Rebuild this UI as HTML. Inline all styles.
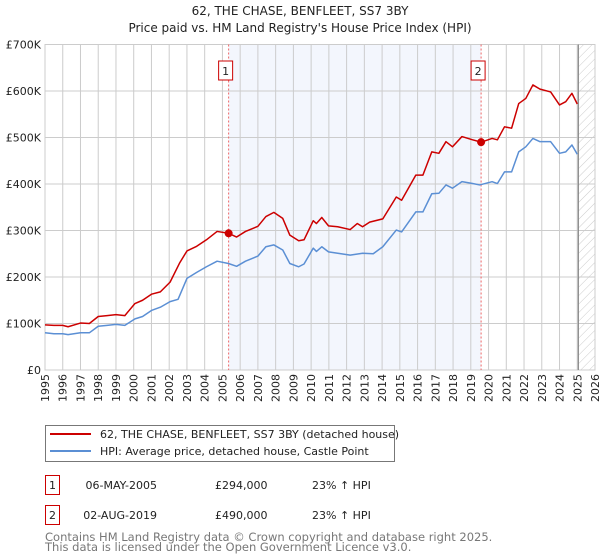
<!DOCTYPE html>
<html><head><meta charset="utf-8">
<style>
body{margin:0;background:#fff;width:600px;height:560px;overflow:hidden;font-family:"DejaVu Sans","Liberation Sans",sans-serif;}
svg{position:absolute;left:0;top:0}
</style></head>
<body>
<svg id="chart" width="600" height="560" font-family="DejaVu Sans, Liberation Sans, sans-serif"></svg>
<script>
const yearTicks=[1995,1996,1997,1998,1999,2000,2001,2002,2003,2004,2005,2006,2007,2008,2009,2010,2011,2012,2013,2014,2015,2016,2017,2018,2019,2020,2021,2022,2023,2024,2025,2026];
const valueTicks=[0,100,200,300,400,500,600,700];
const valueTickLabels=["£0","£100K","£200K","£300K","£400K","£500K","£600K","£700K"];
const hpiYears=[1995,1995.5,1996,1996.3,1997,1997.5,1998,1998.5,1999,1999.5,2000.07,2000.5,2001,2001.5,2002.05,2002.5,2003,2003.55,2004.1,2004.7,2005.34,2005.8,2006.3,2007,2007.45,2007.9,2008.4,2008.8,2009.3,2009.6,2010.12,2010.3,2010.6,2010.98,2011.5,2012.2,2012.9,2013.5,2014.04,2014.8,2015.1,2015.9,2016.3,2016.8,2017.2,2017.6,2017.97,2018.5,2019.1,2019.5,2020.2,2020.5,2020.9,2021.3,2021.7,2022.1,2022.5,2022.9,2023.5,2024.0,2024.35,2024.7,2025.0];
const hpiValues=[80,78,78,76,80,80,94,96,98,96,110,115,128,135,147,152,197,210,222,234,229,223,234,245,265,269,258,229,222,228,262,255,265,254,251,247,251,250,265,301,297,340,340,379,380,398,391,405,401,398,405,401,426,426,469,480,498,491,491,466,469,484,464];
const priceYears=[1995,1995.5,1996,1996.3,1997,1997.5,1998,1998.5,1999,1999.5,2000.07,2000.5,2001,2001.5,2002.05,2002.6,2003,2003.55,2004.1,2004.7,2005.35,2005.8,2006.3,2007,2007.45,2007.9,2008.4,2008.8,2009.3,2009.6,2010.12,2010.3,2010.6,2010.98,2011.5,2012.2,2012.6,2012.9,2013.3,2014.04,2014.8,2015.1,2015.9,2016.3,2016.8,2017.2,2017.6,2017.97,2018.5,2019.1,2019.58,2020.2,2020.5,2020.9,2021.3,2021.7,2022.1,2022.5,2022.9,2023.5,2024.0,2024.35,2024.7,2025.0];
const priceValues=[97,96,96,93,101,100,115,117,119,117,143,150,163,168,189,231,256,266,280,298,294,286,298,309,330,339,326,290,278,280,321,315,328,310,308,302,315,308,318,325,372,365,419,419,469,466,491,480,502,495,490,498,495,523,520,573,584,613,604,598,570,577,595,572];
const saleYears=[2005.35,2019.58];
const saleValues=[294,490];
const saleLabels=["1","2"];

const L=45,R=595,T=44.5,B=370;
const x=y=>L+(y-1995)/(2026-1995)*(R-L);
const yv=v=>B-v/700*(B-T);
const NS="http://www.w3.org/2000/svg";
const svg=document.getElementById('chart');
function mk(tag,attrs,parent){const e=document.createElementNS(NS,tag);for(const k in attrs)e.setAttribute(k,attrs[k]);(parent||svg).appendChild(e);return e;}

let t=mk('text',{x:300,y:15,'text-anchor':'middle','font-size':12,fill:'#222'});t.textContent="62, THE CHASE, BENFLEET, SS7 3BY";


t=mk('text',{x:300,y:32,'text-anchor':'middle','font-size':12,fill:'#222'});t.textContent="Price paid vs. HM Land Registry's House Price Index (HPI)";



let sh=mk('rect',{x:x(saleYears[0]),y:T,width:x(saleYears[1])-x(saleYears[0]),height:B-T,fill:'#eef2fc',opacity:0.7});


const defs=mk('defs',{});
const pat=mk('pattern',{id:'hatch',width:6,height:6,patternUnits:'userSpaceOnUse',patternTransform:'rotate(45)'},defs);
mk('line',{x1:0,y1:0,x2:0,y2:6,stroke:'#ccc','stroke-width':1},pat);
let ht=mk('rect',{x:x(2025.06),y:T,width:R-x(2025.06),height:B-T,fill:'url(#hatch)'});



yearTicks.forEach(yr=>{const l=mk('line',{x1:x(yr),x2:x(yr),y1:T,y2:B,stroke:'#ccc','stroke-width':1});


const tx=mk('text',{transform:`translate(${x(yr)+4},${B+4}) rotate(-90)`,'text-anchor':'end','font-size':11,fill:'#222'});tx.textContent=yr;

});
valueTicks.forEach((v,i)=>{const l=mk('line',{x1:L,x2:R,y1:yv(v),y2:yv(v),stroke:'#ccc','stroke-width':1});


const tx=mk('text',{x:L-4,y:yv(v)+4,'text-anchor':'end','font-size':11,fill:'#222'});tx.textContent=valueTickLabels[i];

});
let ax=mk('rect',{x:L,y:T,width:R-L,height:B-T,fill:'none',stroke:'#ccc'});


let nl=mk('line',{x1:x(2025.06),x2:x(2025.06),y1:T,y2:B,stroke:'#888','stroke-width':1.2});



saleYears.forEach((yr,i)=>{const l=mk('line',{x1:x(yr),x2:x(yr),y1:T,y2:B,stroke:'#e66','stroke-width':1,'stroke-dasharray':'2,2'});


const g=mk('g',{});


mk('rect',{x:x(yr)-10,y:61,width:14,height:19,fill:'#fff',stroke:'#c00'},g);
const tx=mk('text',{x:x(yr)-3,y:75,'text-anchor':'middle','font-size':11,fill:'#222'},g);tx.textContent=saleLabels[i];});

function line(xs,vs,color,name){const p=mk('polyline',{points:xs.map((a,i)=>x(a)+','+yv(vs[i])).join(' '),fill:'none',stroke:color,'stroke-width':1.5,'stroke-linejoin':'round'});

}
line(hpiYears,hpiValues,'#5b8fd4','hpi-line');
line(priceYears,priceValues,'#cc0000','price-line');
saleYears.forEach((yr,i)=>{const c=mk('circle',{cx:x(yr),cy:yv(saleValues[i]),r:4,fill:'#cc0000'});

});

const lg=mk('g',{});


mk('rect',{x:45.5,y:425.5,width:349,height:36,fill:'#fff',stroke:'#777'},lg);
mk('line',{x1:50,x2:91,y1:434,y2:434,stroke:'#cc0000','stroke-width':2},lg);
mk('line',{x1:50,x2:91,y1:451,y2:451,stroke:'#5b8fd4','stroke-width':2},lg);
t=mk('text',{x:100,y:438,'font-size':11,fill:'#222'},lg);t.textContent="62, THE CHASE, BENFLEET, SS7 3BY (detached house)";
t=mk('text',{x:100,y:455,'font-size':11,fill:'#222'},lg);t.textContent="HPI: Average price, detached house, Castle Point";

const rows=[["1","06-MAY-2005","£294,000","23% ↑ HPI",475],["2","02-AUG-2019","£490,000","23% ↑ HPI",505]];
rows.forEach(r=>{const g=mk('g',{});


mk('rect',{x:45.5,y:r[4]+0.5,width:14,height:19,fill:'none',stroke:'#c00'},g);
let a=mk('text',{x:52.5,y:r[4]+14,'text-anchor':'middle','font-size':11,fill:'#222'},g);a.textContent=r[0];
a=mk('text',{x:157,y:r[4]+14,'text-anchor':'end','font-size':11,fill:'#222'},g);a.textContent=r[1];
a=mk('text',{x:215,y:r[4]+14,'font-size':11,fill:'#222'},g);a.textContent=r[2];
a=mk('text',{x:312,y:r[4]+14,'font-size':11,fill:'#222'},g);a.textContent=r[3];});

t=mk('text',{x:45,y:541,'font-size':11.5,fill:'#777'});t.textContent="Contains HM Land Registry data © Crown copyright and database right 2025.";


t=mk('text',{x:45,y:551,'font-size':11.5,fill:'#777'});t.textContent="This data is licensed under the Open Government Licence v3.0.";


</script>
</body></html>
